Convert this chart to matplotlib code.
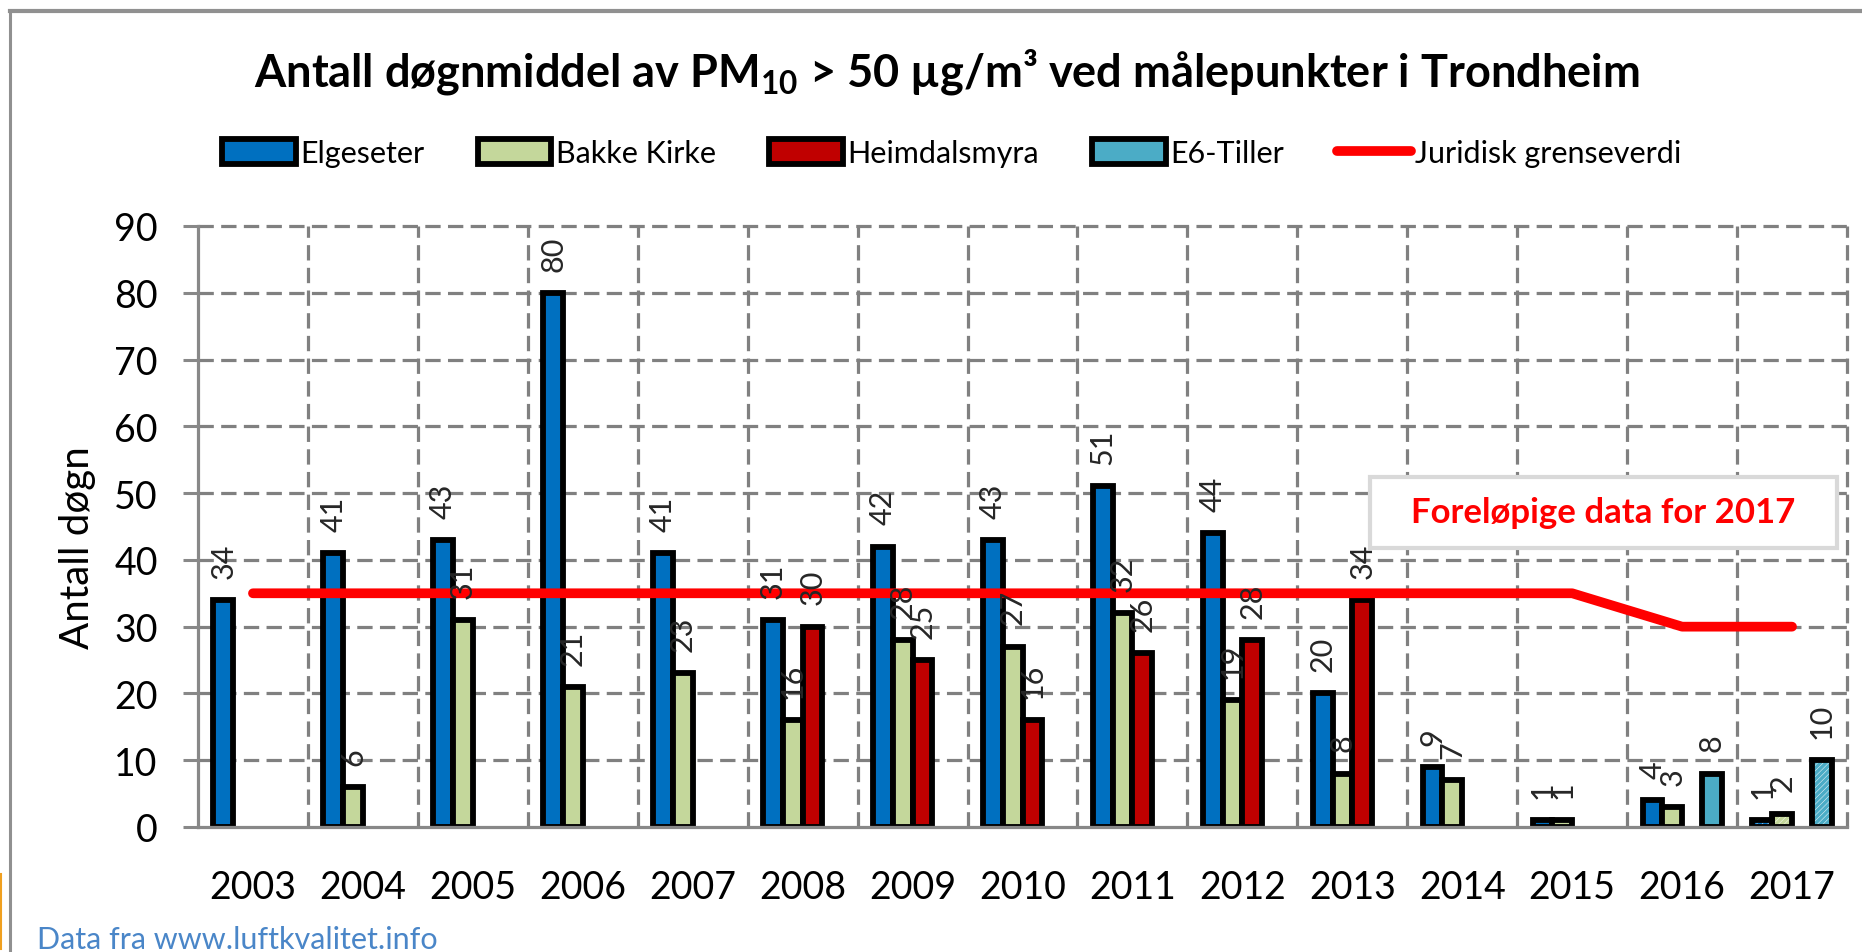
import matplotlib
matplotlib.use('Agg')
import matplotlib.pyplot as plt
from matplotlib.patches import Rectangle
from matplotlib.lines import Line2D
import numpy as np

plt.rcParams['font.family'] = ['Lato', 'DejaVu Sans']
plt.rcParams['mathtext.fontset'] = 'custom'
plt.rcParams['mathtext.rm'] = 'Lato'
plt.rcParams['mathtext.bf'] = 'Lato:bold'
plt.rcParams['mathtext.default'] = 'bf'
plt.rcParams['hatch.linewidth'] = 2.5

# ---------------- data ----------------
years = ['2003', '2004', '2005', '2006', '2007', '2008', '2009', '2010',
         '2011', '2012', '2013', '2014', '2015', '2016', '2017']
elgeseter = [34, 41, 43, 80, 41, 31, 42, 43, 51, 44, 20, 9, 1, 4, 1]
bakke_kirke = [None, 6, 31, 21, 23, 16, 28, 27, 32, 19, 8, 7, 1, 3, 2]
heimdalsmyra = [None, None, None, None, None, 30, 25, 16, 26, 28, 34, None, None, None, None]
e6_tiller = [None] * 13 + [8, 10]
grenseverdi = [35] * 13 + [30, 30]
preliminary_year = '2017'

series_names = ['Elgeseter', 'Bakke Kirke', 'Heimdalsmyra', 'E6-Tiller']
series_values = [elgeseter, bakke_kirke, heimdalsmyra, e6_tiller]
series_colors = ['#0070C0', '#C4D79B', '#C00000', '#4BACC6']
offsets = [-0.27, -0.09, 0.09, 0.27]
bar_w = 0.18
edge_lw = 4.2

W, H = 1862, 953
fig = plt.figure(figsize=(W / 100, H / 100), dpi=100)
ax = fig.add_axes([198 / W, 1 - 828 / H, 1649 / W, 601 / H])

x = np.arange(len(years))
prelim_idx = years.index(preliminary_year)
handles = []
for name, vals, col, off in zip(series_names, series_values, series_colors, offsets):
    xs = [i + off for i, v in enumerate(vals) if v is not None and i != prelim_idx]
    ys = [v for i, v in enumerate(vals) if v is not None and i != prelim_idx]
    b = ax.bar(xs, ys, width=bar_w, color=col, edgecolor='black', linewidth=edge_lw,
               zorder=3, label=name)
    handles.append(b)
    v = vals[prelim_idx]
    if v is not None:
        ax.bar(prelim_idx + off, v, width=bar_w, color='white', edgecolor=col,
               hatch='//////', linewidth=0, zorder=3)
        ax.bar(prelim_idx + off, v, width=bar_w, fill=False, edgecolor='black',
               linewidth=edge_lw, zorder=3.1)
    for i, val in enumerate(vals):
        if val is None:
            continue
        ax.annotate(str(val), (i + off, val), xytext=(0, 16), textcoords='offset points',
                    rotation=90, ha='center', va='bottom', fontsize=22,
                    color='#262626', zorder=6)

line, = ax.plot(x, grenseverdi, color='#FF0000', lw=7, solid_capstyle='round',
                solid_joinstyle='round', zorder=5, label='Juridisk grenseverdi')

# axes styling
ax.set_xlim(-0.5, len(years) - 0.5)
ax.set_ylim(0, 90)
yt = np.arange(0, 91, 10)
ax.set_yticks(yt)
ax.set_xticks(x)
ax.set_xticklabels(years)
grid_kw = dict(color='#808080', lw=2.3, ls=(0, (4.8, 2.3)), zorder=1, clip_on=False)
for yv in yt[1:]:
    ax.axhline(yv, **grid_kw)
for xv in np.arange(0.5, len(years), 1):
    ax.axvline(xv, **grid_kw)
for s in ['top', 'right']:
    ax.spines[s].set_visible(False)
for s in ['left', 'bottom']:
    ax.spines[s].set_color('#888888')
    ax.spines[s].set_linewidth(2.3)
    ax.spines[s].set_zorder(4)
ax.tick_params(axis='x', which='both', length=0, pad=30, labelsize=27)
ax.tick_params(axis='y', length=11, width=2.2, color='#888888', pad=18, labelsize=27)
ax.set_ylabel('Antall døgn', fontsize=29)
ax.yaxis.set_label_coords(-0.062, 0.466)

# annotation box
ax.add_patch(Rectangle((0.7107, 0.4642), 0.2832, 0.1182, transform=ax.transAxes,
                       facecolor='white', edgecolor='#D9D9D9', lw=3, zorder=7, clip_on=False))
ax.text(0.8523, 0.5233, 'Foreløpige data for 2017', transform=ax.transAxes,
        ha='center', va='center', color='#FF0000', fontsize=25, fontweight='bold', zorder=8)

# title & legend
fig.text(947 / W, 1 - 72 / H,
         r'Antall døgnmiddel av PM$_{10}$ > 50 µg/m³ ved målepunkter i Trondheim',
         ha='center', va='center', fontsize=32.5, fontweight='bold')
leg_line = Line2D([0], [0], color='#FF0000', lw=7, solid_capstyle='round')
fig.legend(handles + [leg_line], series_names + ['Juridisk grenseverdi'],
           loc='center', bbox_to_anchor=(952 / W, 1 - 154 / H), ncol=5, frameon=False,
           fontsize=22, handlelength=2.4, handleheight=0.85, handletextpad=0.15,
           columnspacing=1.75)

# source text and frame
fig.text(37 / W, 1 - 940 / H, 'Data fra www.luftkvalitet.info', ha='left', va='center',
         fontsize=22, color='#4A86C8')
fig.add_artist(Line2D([10 / W, 10 / W], [0, 1 - 12 / H], color='#909090', lw=2.2))
fig.add_artist(Line2D([10 / W, 1], [1 - 12 / H, 1 - 12 / H], color='#909090', lw=3))
fig.add_artist(Line2D([1 / W, 1 / W], [1 - 950 / H, 1 - 875 / H], color='#F0A020', lw=1.5))

fig.savefig('out.png', dpi=100)
